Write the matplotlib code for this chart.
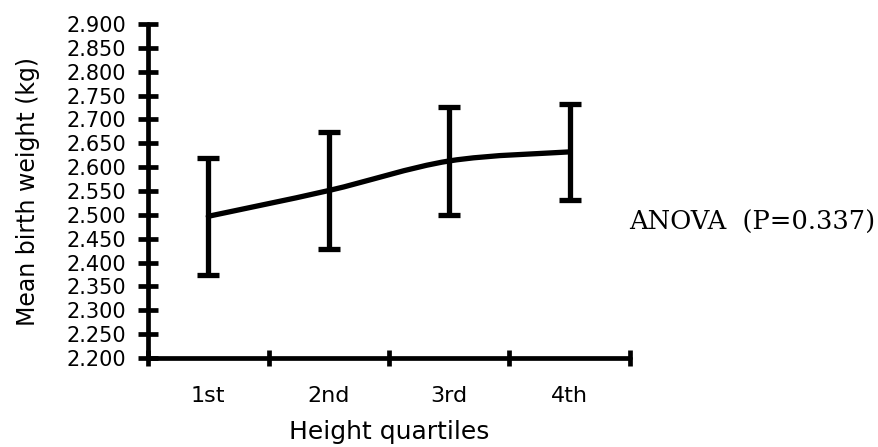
import numpy as np
import matplotlib
matplotlib.use('Agg')
import matplotlib.pyplot as plt
from matplotlib.path import Path
from matplotlib.patches import PathPatch

# data
quartiles = ['1st', '2nd', '3rd', '4th']
mean_bw = [2.497, 2.551, 2.613, 2.632]
err_bw = [0.122, 0.123, 0.113, 0.100]
y_ticks = [2.200, 2.250, 2.300, 2.350, 2.400, 2.450, 2.500, 2.550,
           2.600, 2.650, 2.700, 2.750, 2.800, 2.850, 2.900]
note = 'ANOVA  (P=0.337)'

plt.rcParams['font.family'] = ['DejaVu Sans']

fig = plt.figure(figsize=(8.79, 4.47), dpi=100)
ax = fig.add_axes([0.1684, 0.1991, 0.7167 - 0.1684, 0.9463 - 0.1991])

x = np.arange(len(quartiles)) + 0.5
y = np.array(mean_bw)

# smoothed line (excel style bezier through the points)
px = np.concatenate([[x[0]], x, [x[-1]]])
py = np.concatenate([[y[0]], y, [y[-1]]])
verts = [(x[0], y[0])]
codes = [Path.MOVETO]
for i in range(1, len(px) - 2):
    c1 = (px[i] + (px[i+1] - px[i-1]) / 6, py[i] + (py[i+1] - py[i-1]) / 6)
    c2 = (px[i+1] - (px[i+2] - px[i]) / 6, py[i+1] - (py[i+2] - py[i]) / 6)
    verts += [c1, c2, (px[i+1], py[i+1])]
    codes += [Path.CURVE4] * 3
ax.add_patch(PathPatch(Path(verts, codes), fill=False, lw=3.8, ec='black',
                       capstyle='round', zorder=3))

ax.errorbar(x, y, yerr=err_bw, fmt='none', ecolor='black', elinewidth=3.8,
            capsize=8, capthick=3.8, zorder=3)

ax.set_xlim(0, len(quartiles))
ax.set_ylim(y_ticks[0], y_ticks[-1])

ax.set_yticks(y_ticks)
ax.set_yticklabels([f'{v:.3f}' for v in y_ticks], fontsize=15)
ax.set_xticks(np.arange(len(quartiles) + 1))
ax.set_xticklabels([])
ax.set_xticks(x, minor=True)
ax.set_xticklabels(quartiles, minor=True, fontsize=16)

ax.tick_params(axis='y', which='major', direction='inout', length=14, width=3.4, pad=9)
ax.tick_params(axis='x', which='major', direction='inout', length=12, width=3.4)
ax.tick_params(axis='x', which='minor', length=0, pad=20)

for s in ['top', 'right']:
    ax.spines[s].set_visible(False)
for s in ['left', 'bottom']:
    ax.spines[s].set_linewidth(3.4)
    ax.spines[s].set_capstyle('round')

ax.set_xlabel('Height quartiles', fontsize=18, labelpad=10)
ax.set_ylabel('Mean birth weight (kg)', fontsize=17)
ax.yaxis.set_label_coords(-0.225, 0.5)

fig.text(0.716, 0.4866, note, fontsize=18.5, family=['DejaVu Serif'],
         va='baseline', ha='left')

fig.savefig('out.png', dpi=100)
